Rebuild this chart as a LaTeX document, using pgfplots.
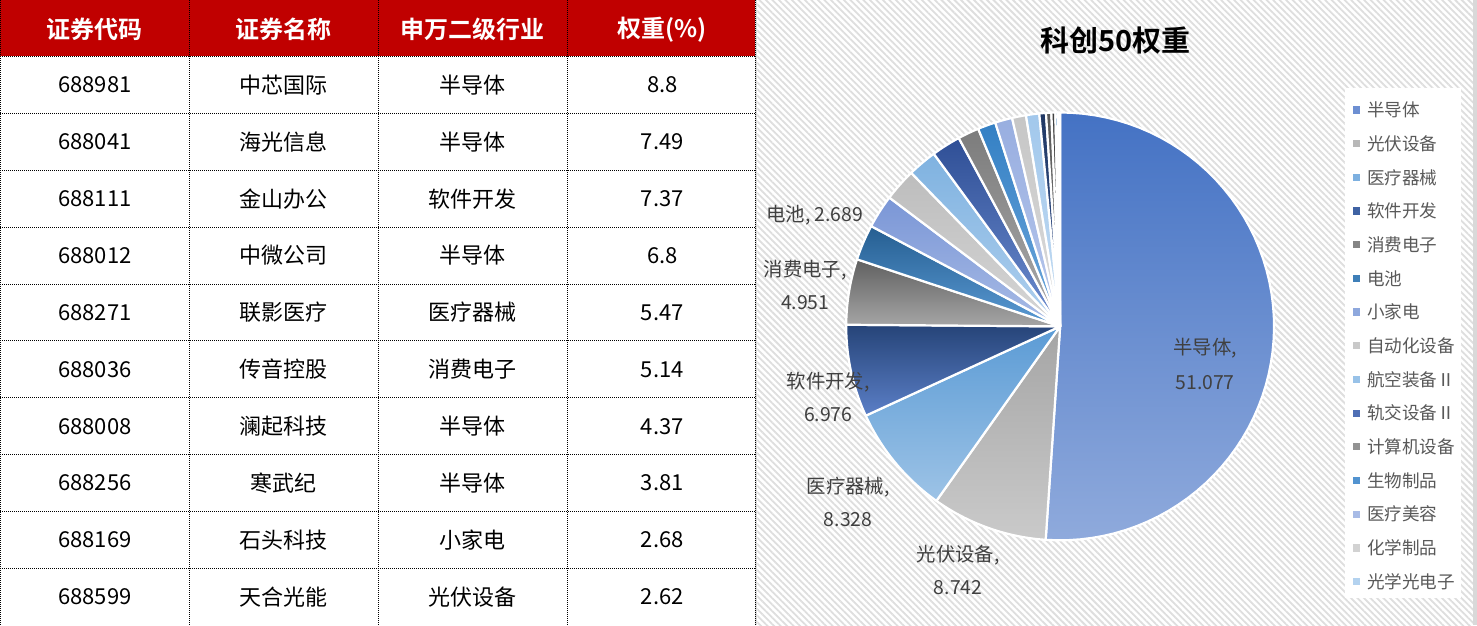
\documentclass[border=0pt]{standalone}
\usepackage{fontspec}
\setmainfont{Noto Sans CJK SC}[BoldFont={Noto Sans CJK SC Bold}]
\usepackage{pgfplots}
\usepackage{pgfplotstable}
\pgfplotsset{compat=1.18}
\usetikzlibrary{patterns.meta}

\definecolor{hdr}{HTML}{C00000}
\definecolor{lbl}{HTML}{404040}
\definecolor{legtxt}{HTML}{595959}
\definecolor{sep}{HTML}{D9D9D9}
% slice colours: t = top of slice, b = bottom, l = legend key
\definecolor{t0}{HTML}{4472C4}\definecolor{b0}{HTML}{8FAADC}\definecolor{l0}{HTML}{6D8FD2}
\definecolor{t1}{HTML}{A5A5A5}\definecolor{b1}{HTML}{CACACA}\definecolor{l1}{HTML}{B8B8B8}
\definecolor{t2}{HTML}{5B9BD5}\definecolor{b2}{HTML}{9DC3E6}\definecolor{l2}{HTML}{7DB0E0}
\definecolor{t3}{HTML}{264478}\definecolor{b3}{HTML}{5B7FC7}\definecolor{l3}{HTML}{3F62A3}
\definecolor{t4}{HTML}{606060}\definecolor{b4}{HTML}{A6A6A6}\definecolor{l4}{HTML}{858585}
\definecolor{t5}{HTML}{255E91}\definecolor{b5}{HTML}{5B9BD5}\definecolor{l5}{HTML}{3E7FB8}
\definecolor{t6}{HTML}{7A96D6}\definecolor{b6}{HTML}{A9BCE6}\definecolor{l6}{HTML}{8EA8DD}
\definecolor{t7}{HTML}{BDBDBD}\definecolor{b7}{HTML}{D6D6D6}\definecolor{l7}{HTML}{C9C9C9}
\definecolor{t8}{HTML}{7FB2E0}\definecolor{b8}{HTML}{B0D0EE}\definecolor{l8}{HTML}{98C2E8}
\definecolor{t9}{HTML}{2F4F96}\definecolor{b9}{HTML}{6E8ED0}\definecolor{l9}{HTML}{4F6FB5}
\definecolor{t10}{HTML}{7C7C7C}\definecolor{b10}{HTML}{ABABAB}\definecolor{l10}{HTML}{939393}
\definecolor{t11}{HTML}{3480C4}\definecolor{b11}{HTML}{6FA8DC}\definecolor{l11}{HTML}{5293D0}
\definecolor{t12}{HTML}{98AEE0}\definecolor{b12}{HTML}{B8C8EC}\definecolor{l12}{HTML}{A8BBE6}
\definecolor{t13}{HTML}{C6C6C6}\definecolor{b13}{HTML}{DCDCDC}\definecolor{l13}{HTML}{D2D2D2}
\definecolor{t14}{HTML}{A2C8EC}\definecolor{b14}{HTML}{C3DBF2}\definecolor{l14}{HTML}{B3D2EF}
\definecolor{t15}{HTML}{203864}\definecolor{b15}{HTML}{3C5A96}
\definecolor{t16}{HTML}{595959}\definecolor{b16}{HTML}{7F7F7F}
\definecolor{t17}{HTML}{404040}\definecolor{b17}{HTML}{626262}
\definecolor{t18}{HTML}{2E75B6}\definecolor{b18}{HTML}{5B9BD5}
\definecolor{t19}{HTML}{8FAADC}\definecolor{b19}{HTML}{B4C7E7}

\tikzset{
    slice/.style={draw=white, line width=1.1pt, line join=round},
    cell/.style={font=\fontsize{11}{13}\selectfont, text=black},
    head/.style={font=\bfseries\fontsize{12}{14}\selectfont, text=white},
    dlab/.style={font=\fontsize{9.7}{11}\selectfont, text=lbl},
    legt/.style={anchor=west, inner sep=0pt, text=legtxt, font=\fontsize{8.8}{10}\selectfont},
    tgrid/.style={line width=0.5pt, dash pattern=on 0.5pt off 0.5pt},
}

\pgfplotstableread[col sep=comma]{
code,name,ind,w
688981,中芯国际,半导体,8.8
688041,海光信息,半导体,7.49
688111,金山办公,软件开发,7.37
688012,中微公司,半导体,6.8
688271,联影医疗,医疗器械,5.47
688036,传音控股,消费电子,5.14
688008,澜起科技,半导体,4.37
688256,寒武纪,半导体,3.81
688169,石头科技,小家电,2.68
688599,天合光能,光伏设备,2.62
}\topten

\pgfplotstableread{
sector value
半导体 51.077
光伏设备 8.742
医疗器械 8.328
软件开发 6.976
消费电子 4.951
电池 2.689
小家电 2.52
自动化设备 2.46
航空装备Ⅱ 2.20
轨交设备Ⅱ 2.20
计算机设备 1.60
生物制品 1.35
医疗美容 1.30
化学制品 1.05
光学光电子 1.00
其他1 0.50
其他2 0.40
其他3 0.30
其他4 0.20
其他5 0.15
}\piedata

\begin{document}
\begin{tikzpicture}
\begin{axis}[
    width=738.5pt, height=312.5pt, scale only axis,
    xmin=0, xmax=1477, ymin=0, ymax=625,
    y dir=reverse, hide axis, clip=false,
]
% backgrounds
\fill[white] (0,0) rectangle (1477,625);
\fill[pattern={Lines[angle=-45,distance=2.3pt,line width=0.9pt]}, pattern color=black!13]
    (757,0) rectangle (1473,625);
\fill[sep] (755,0) rectangle (757,625);
\fill[sep] (1473,0) rectangle (1477,625);
\fill[white] (1345,88) rectangle (1461,598);

% table
\fill[hdr] (0,0) rectangle (755,56);
\node[head] at (94.5,29) {证券代码};
\node[head] at (283.5,29) {证券名称};
\node[head] at (472.5,29) {申万二级行业};
\node[head] at (662,29) {权重(\%)};
\pgfplotsforeachungrouped \idx in {0,...,9}{%
  \pgfplotstablegetelem{\idx}{code}\of\topten \let\cA\pgfplotsretval
  \pgfplotstablegetelem{\idx}{name}\of\topten \let\cB\pgfplotsretval
  \pgfplotstablegetelem{\idx}{ind}\of\topten \let\cC\pgfplotsretval
  \pgfplotstablegetelem{\idx}{w}\of\topten \let\cD\pgfplotsretval
  \pgfmathsetmacro{\ry}{56+56.9*(\idx+0.5)}%
  \pgfmathsetmacro{\ly}{56+56.9*\idx}%
  \edef\dorow{%
    \noexpand\node[cell] at (94.5,\ry) {\cA};
    \noexpand\node[cell] at (283.5,\ry) {\cB};
    \noexpand\node[cell] at (472.5,\ry) {\cC};
    \noexpand\node[cell] at (662,\ry) {\cD};
    \noexpand\draw[tgrid] (0,\ly) -- (755,\ly);
  }%
  \dorow
}
\draw[tgrid] (0.5,0) -- (0.5,625);
\draw[tgrid] (189,0) -- (189,625);
\draw[tgrid] (378,0) -- (378,625);
\draw[tgrid] (567,0) -- (567,625);
\draw[tgrid] (755,0) -- (755,625);

% pie slices, clockwise from 12 o'clock
\def\cum{0}
\pgfplotsforeachungrouped \idx in {0,...,19}{%
  \pgfplotstablegetelem{\idx}{value}\of\piedata
  \let\val\pgfplotsretval
  \pgfmathsetmacro{\angA}{3.6*\cum}%
  \pgfmathsetmacro{\angB}{3.6*(\cum+\val)}%
  \edef\doslice{%
    \noexpand\addplot[slice, samples=60, top color=t\idx, bottom color=b\idx, domain=\angA:\angB]
      ({1060+214*sin(x)}, {326-214*cos(x)}) -- (axis cs:1060,326) -- cycle;
  }%
  \doslice
  \pgfmathsetmacro{\cum}{\cum+\val}%
}

% title and data labels
\node[font=\bfseries\fontsize{14.5}{17}\selectfont] at (1115,40) {科创50权重};
\node[dlab] at (1205,348) {半导体,};
\node[dlab] at (1205,382) {51.077};
\node[dlab] at (958,555) {光伏设备,};
\node[dlab] at (958,587) {8.742};
\node[dlab] at (848,487) {医疗器械,};
\node[dlab] at (848,519) {8.328};
\node[dlab] at (828,382) {软件开发,};
\node[dlab] at (828,414) {6.976};
\node[dlab] at (805,270) {消费电子,};
\node[dlab] at (805,302) {4.951};
\node[dlab] at (814.5,215) {电池, 2.689};

% legend
\pgfplotsforeachungrouped \idx in {0,...,14}{%
  \pgfplotstablegetelem{\idx}{sector}\of\piedata
  \let\nm\pgfplotsretval
  \pgfmathsetmacro{\ky}{109.5+33.7*\idx}%
  \pgfmathsetmacro{\kyA}{\ky-3.6}%
  \pgfmathsetmacro{\kyB}{\ky+3.6}%
  \edef\doleg{%
    \noexpand\fill[l\idx] (1353,\kyA) rectangle (1360.4,\kyB);
    \noexpand\node[legt] at (1366.7,\ky) {\nm};
  }%
  \doleg
}
\end{axis}
\end{tikzpicture}
\end{document}
